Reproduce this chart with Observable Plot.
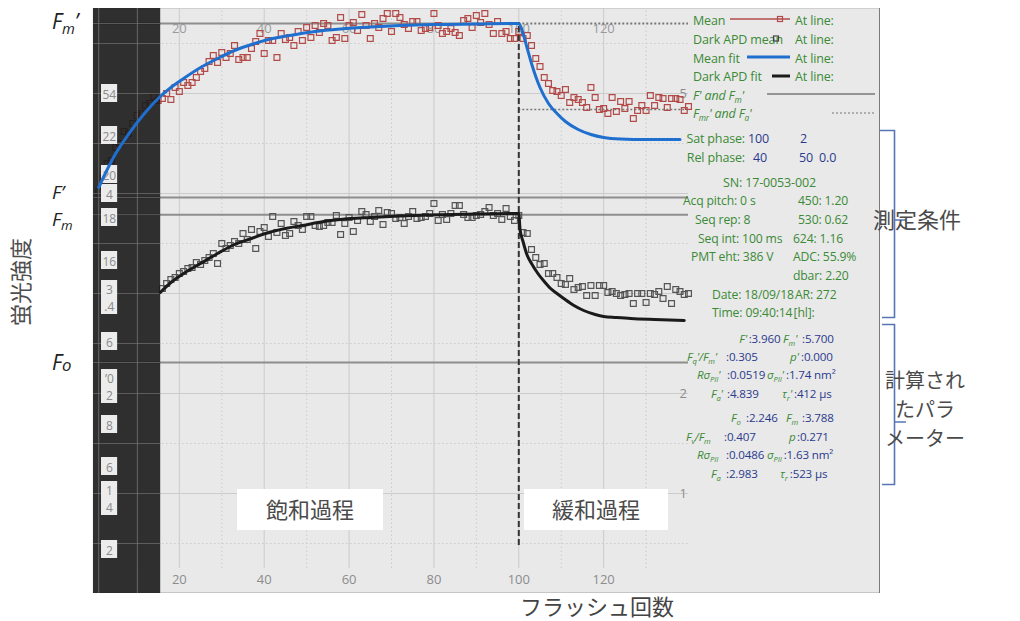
<!DOCTYPE html>
<html><head><meta charset="utf-8">
<script src="https://cdn.jsdelivr.net/npm/d3@7"></script>
<script src="https://cdn.jsdelivr.net/npm/@observablehq/plot@0.6"></script>
<style>body{margin:0;background:#fff;} svg{display:block}</style>
</head><body><div id="chart"></div>
<script>
// ---------- data ----------
const meanStart = 1;
const meanValues = [
 4.02,4.15,4.30,4.33,4.46,4.50,4.62,4.60,4.70,4.78,4.80,4.88,4.90,4.97,4.93,
 4.95,5.00,4.94,5.06,5.02,5.11,5.08,5.11,5.16,5.22,5.25,5.32,5.38,5.31,5.41,5.36,5.40,5.48,5.34,5.36,5.36,5.45,5.52,5.60,5.40,5.53,5.53,5.36,5.60,5.54,5.56,5.48,5.62,5.53,5.66,5.56,5.68,5.61,5.70,5.68,
 5.53,5.56,5.76,5.55,5.68,5.71,5.63,5.79,5.68,5.55,5.70,5.66,5.75,5.80,5.62,5.80,5.76,5.69,5.65,5.72,5.72,5.63,5.65,5.66,5.80,5.68,5.60,5.62,5.65,5.61,5.58,5.73,5.75,5.66,5.78,5.71,5.80,5.69,5.60,5.72,5.60,5.62,5.55,5.55,5.62,
 5.55,5.58,5.48,5.35,5.27,5.16,5.10,5.03,5.02,4.98,5.04,4.91,4.96,4.94,4.91,4.86,5.06,4.96,4.84,4.85,4.80,4.96,4.82,4.92,4.85,4.92,4.75,4.83,4.88,4.83,4.98,4.88,4.96,4.95,4.86,4.95,4.95,4.94,4.83,4.87
];
const darkStart = 16;
const darkValues = [
 3.05,3.10,3.14,3.16,3.20,3.22,3.25,3.26,3.31,3.29,3.33,3.36,3.40,3.30,3.50,3.45,3.48,3.52,3.50,3.60,3.54,3.64,3.45,3.62,3.66,3.57,3.77,3.61,3.70,3.58,3.60,3.72,3.68,3.64,3.77,3.77,3.68,3.67,3.68,3.71,
 3.71,3.78,3.59,3.70,3.76,3.62,3.73,3.82,3.79,3.72,3.77,3.83,3.69,3.81,3.80,3.75,3.76,3.70,3.77,3.82,3.75,3.76,3.77,3.80,3.90,3.73,3.79,3.74,3.80,3.88,3.88,3.79,3.76,3.76,3.78,3.79,3.82,3.86,3.78,3.80,3.74,3.85,3.77,3.73,3.78,
 3.61,3.60,3.44,3.36,3.29,3.30,3.20,3.20,3.16,3.10,3.09,3.15,3.04,3.06,3.07,2.98,3.08,2.98,3.08,3.08,3.01,3.02,3.00,2.98,2.99,3.00,2.90,3.00,3.00,2.91,3.00,2.99,3.02,2.95,3.07,2.90,3.04,3.02,2.99,3.00
];
const meanFitX = [1,3,5,7,9,11,13,15,18,21,25,29,33,37,41,46,52,58,65,72,80,90,100,101,102,103,104,105,107,109,111,114,117,120,124,130,138];
const meanFitY = [4.06,4.24,4.40,4.53,4.65,4.76,4.86,4.95,5.06,5.15,5.26,5.35,5.43,5.49,5.54,5.58,5.62,5.645,5.665,5.68,5.69,5.695,5.70,5.60,5.45,5.30,5.17,5.06,4.90,4.80,4.72,4.64,4.59,4.56,4.545,4.54,4.54];
const darkFitX = [15.5,18,21,25,29,33,37,41,45,49,54,58,65,72,79,90,100,100.3,101,102,103,104.5,106,107.5,109,110.6,113,115.3,118,120,123,126.4,132,139];
const darkFitY = [3.01,3.11,3.20,3.30,3.40,3.49,3.55,3.61,3.65,3.68,3.72,3.74,3.76,3.775,3.785,3.795,3.80,3.64,3.52,3.38,3.30,3.20,3.12,3.05,3.00,2.95,2.88,2.83,2.79,2.77,2.76,2.75,2.74,2.73];
const xTicks = [20,40,60,80,100,120];
const xMinor = [10,30,50,70,90,110,130];
const yRightTicks = [1,2,5];
const yGrid = [1,2,3,4,5];
const yMinor = [0.5,1.5,2.5,3.5,4.5,5.5];
const fPrime = 3.96, fmPrime = 5.70, fm = 3.788, fo = 2.31, faPrime = 4.839;
const satEnd = 100;
const stripEnd = 15.6;
const stripLabelText = ["54","22","20","4","18","16","3\n.4","6","’0\n2","8","6","1\n4","2"];
const stripLabelY = [5.00,4.58,4.19,4.00,3.76,3.33,2.96,2.52,2.07,1.69,1.27,0.95,0.44];

// ---------- tables ----------
const mean = meanValues.map((v,i)=>({x: meanStart+i, v}));
const dark = darkValues.map((v,i)=>({x: darkStart+i, v}));
const meanFit = meanFitX.map((x,i)=>({x, v: meanFitY[i]}));
const darkFit = darkFitX.map((x,i)=>({x, v: darkFitY[i]}));
const strip = stripLabelText.map((t,i)=>{const n=t.split("\n").length; return {t, y: stripLabelY[i], half: 0.08*n+0.01};});

const gridC = "#cbcbcb", refC = "#8e8e8e";
const chart = Plot.plot({
  width: 1020, height: 621,
  marginLeft: 94, marginRight: 332, marginTop: 8, marginBottom: 28,
  x: {domain: [0,140]},
  y: {domain: [0,5.85]},
  style: {fontFamily: "'Open Sans', sans-serif", background: "transparent"},
  marks: [
    Plot.ruleX(xTicks, {y1: 0.25, y2: 5.85, stroke: gridC}),
    Plot.ruleX(xMinor, {y1: 0.25, y2: 5.85, stroke: gridC, strokeDasharray: "1.5,2.5"}),
    Plot.ruleY(yGrid, {x1: 0, x2: 140, stroke: gridC}),
    Plot.ruleY(yMinor, {x1: 0, x2: 140, stroke: gridC, strokeDasharray: "1.5,2.5"}),
    Plot.axisX(xTicks, {anchor: "bottom", tickSize: 0, tickPadding: 0, dy: -19, fontSize: 13, color: "#8c8c8c", label: null}),
    Plot.axisX(xTicks, {anchor: "top", tickSize: 0, tickPadding: 0, dy: 24, fontSize: 13, color: "#9a9a9a", label: null}),
    Plot.axisY(yRightTicks, {anchor: "right", tickSize: 0, tickPadding: 0, dx: -9, fontSize: 13, color: "#8c8c8c", label: null, tickFormat: "d"}),
    Plot.ruleY([fmPrime], {x1: 0, x2: satEnd, stroke: refC, strokeWidth: 2}),
    Plot.ruleY([fmPrime], {x1: satEnd, x2: 140, stroke: "#777", strokeWidth: 1.8, strokeDasharray: "2,2"}),
    Plot.ruleY([faPrime], {x1: satEnd, x2: 140, stroke: "#777", strokeWidth: 1.5, strokeDasharray: "2,2"}),
    Plot.ruleY([fPrime, fm, fo], {x1: 0, x2: 140, stroke: refC, strokeWidth: 2}),
    Plot.dot(dark, {x: "x", y: "v", symbol: "square", r: 3.3, stroke: "#555", strokeWidth: 1.2, fill: "none"}),
    Plot.dot(mean, {x: "x", y: "v", symbol: "square", r: 3.3, stroke: "#b24b48", strokeWidth: 1.2, fill: "none"}),
    Plot.rect([0], {x1: -0.25, x2: stripEnd, y1: 0, y2: 5.85, fill: "#1b1b1b", fillOpacity: 0.9}),
    Plot.ruleY(yGrid.concat(yMinor, [fPrime, fm, fo, fmPrime]), {x1: -0.2, x2: stripEnd, stroke: "#707070", strokeOpacity: 0.7}),
    Plot.ruleX([1, 10.1], {y1: 0, y2: 5.85, stroke: "#777", strokeOpacity: 0.8}),
    Plot.rect(strip, {x1: 1.65, x2: 5.45, y1: d => d.y - d.half, y2: d => d.y + d.half, fill: "#ececec"}),
    Plot.text(strip, {x: 3.5, y: "y", text: "t", fill: "#8a8a8a", fontSize: 12, lineHeight: 1.4}),
    Plot.ruleX([satEnd], {y1: 0.48, y2: 5.71, stroke: "#333", strokeWidth: 2, strokeDasharray: "6,3"}),
    Plot.line(darkFit, {x: "x", y: "v", stroke: "#1a1a1a", strokeWidth: 3, curve: "monotone-x"}),
    Plot.line(meanFit, {x: "x", y: "v", stroke: "#1f6fcf", strokeWidth: 3, curve: "monotone-x"})
  ]
});
document.getElementById("chart").append(chart);

// ---------- annotations ----------
const svg = d3.select(chart);
const bg = svg.insert("g", "g");
bg.append("rect").attr("x",93).attr("y",8).attr("width",787).attr("height",585).attr("fill","#e9e9ea");
bg.append("line").attr("x1",93).attr("x2",880).attr("y1",8.5).attr("y2",8.5).attr("stroke","#cfcfcf");
bg.append("line").attr("x1",93).attr("x2",880).attr("y1",592.5).attr("y2",592.5).attr("stroke","#c6c6c6");
bg.append("line").attr("x1",879.5).attr("x2",879.5).attr("y1",8).attr("y2",593).attr("stroke","#7a7a7a");

const ann = svg.append("g").attr("font-family","'Open Sans', sans-serif");
function rich(x, y, str, o = {}) {
  const size = o.size || 13, sub = o.sub || 0.72, sdy = o.sdy === undefined ? 3 : o.sdy;
  const t = ann.append("text").attr("x", x).attr("y", y).attr("font-size", size)
    .attr("fill", o.color || "#333").attr("text-anchor", o.anchor || "start")
    .attr("font-style", o.italic ? "italic" : "normal").style("white-space", "pre");
  if (o.ls) t.attr("letter-spacing", o.ls);
  let shifted = false;
  str.split(/(\{[^}]*\})/).forEach(p => {
    if (!p) return;
    if (p[0] === "{") { t.append("tspan").attr("font-size", size*sub).attr("dy", shifted ? 0 : sdy).text(p.slice(1,-1)); shifted = true; }
    else { const s = t.append("tspan"); if (shifted) { s.attr("dy", -sdy); shifted = false; } s.text(p); }
  });
  return t;
}

// left labels
rich(52, 29, "F{m}’", {size: 21, italic: true, color: "#222", sdy: 5, sub: 0.7});
rich(52, 199, "F’", {size: 19, italic: true, color: "#222"});
rich(52, 226, "F{m}", {size: 19, italic: true, color: "#222", sdy: 4, sub: 0.7});
rich(52, 370, "F{o}", {size: 21, italic: true, color: "#222", sdy: 1, sub: 0.8});
ann.append("text").attr("transform","translate(29,282) rotate(-90)").attr("text-anchor","middle")
  .attr("font-family","'Noto Sans CJK JP'").attr("font-size",22).attr("fill","#4d4d4d").text("蛍光強度");

// white boxes
const jp = "'Noto Sans CJK JP'";
[[237,146,"飽和過程"],[524,144,"緩和過程"]].forEach(([x,w,t]) => {
  ann.append("rect").attr("x",x).attr("y",489).attr("width",w).attr("height",41).attr("fill","#fff");
  ann.append("text").attr("x",x+w/2).attr("y",518).attr("text-anchor","middle").attr("font-family",jp)
    .attr("font-size",22).attr("fill","#4a4a4a").text(t);
});
ann.append("text").attr("x",597).attr("y",615).attr("text-anchor","middle").attr("font-family",jp)
  .attr("font-size",22).attr("fill","#444").text("フラッシュ回数");

// legend panel
const G = "#3b8a35", N = "#2b3a8c";
const rows = [
 [21, 12.5, [[693,"Mean",G],[795,"At line:",G]]],
 [40, 12.5, [[693,"Dark APD mean",G],[795,"At line:",G]]],
 [59, 12.5, [[693,"Mean fit",G],[795,"At line:",G]]],
 [77, 12.5, [[693,"Dark APD fit",G],[795,"At line:",G]]],
 [96, 12.5, [[693,"F' and F{m}'",G,true]]],
 [114,12.5, [[693,"F{mr}' and F{a}'",G,true]]],
 [139,12.5, [[745,"Sat phase:",G,false,"end"],[748,"100",N],[800,"2",N]]],
 [158,12.5, [[745,"Rel phase:",G,false,"end"],[753,"40",N],[799,"50",N],[819,"0.0",N]]],
 [183,12.5, [[723,"SN: 17-0053-002",G]]],
 [201,12.2, [[683,"Acq pitch: 0 s",G],[798,"450: 1.20",G]]],
 [220,12.2, [[695,"Seq rep: 8",G],[798,"530: 0.62",G]]],
 [239,12.2, [[698,"Seq int: 100 ms",G],[793,"624: 1.16",G]]],
 [257,12.2, [[691,"PMT eht: 386 V",G],[793,"ADC: 55.9%",G]]],
 [276,12.2, [[793,"dbar: 2.20",G]]],
 [295,12.2, [[712,"Date: 18/09/18",G],[793,"AR: 272",G]]],
 [313,12.2, [[712,"Time: 09:40:14",G],[793,"[hl]:",G]]],
 [339,11.6, [[747,"F'",G,true,"end"],[747,":3.960",N],[783,"F{m}'",G,true],[802,":5.700",N]]],
 [357,11.6, [[687,"F{q}'/F{m}'",G,true],[726,":0.305",N],[790,"p'",G,true],[801,":0.000",N]]],
 [375,11.6, [[697,"Rσ{PII}'",G,true],[727,":0.0519",N],[767,"σ{PII}'",G,true],[786,":1.74 nm²",N]]],
 [394,11.6, [[711,"F{a}'",G,true],[727,":4.839",N],[782,"τ{r}'",G,true],[794,":412 μs",N]]],
 [418,11.6, [[731,"F{o}",G,true],[746,":2.246",N],[786,"F{m}",G,true],[802,":3.788",N]]],
 [437,11.6, [[686,"F{v}/F{m}",G,true],[724,":0.407",N],[789,"p",G,true],[797,":0.271",N]]],
 [455,11.6, [[697,"Rσ{PII}",G,true],[726,":0.0486",N],[767,"σ{PII}",G,true],[782,":1.63 nm²",N]]],
 [474,11.6, [[711,"F{a}",G,true],[726,":2.983",N],[780,"τ{r}",G,true],[789,":523 μs",N]]]
];
rows.forEach(([y, size, segs]) => {
  let prevEnd = -Infinity;
  segs.forEach(([x, t, c, it, an]) => {
    const el = rich(x, y + 4.3, t, {size, color: c, italic: !!it, anchor: an || "start", sub: 0.66, sdy: 2.5, ls: -0.15});
    let bb = el.node().getBBox();
    if (bb.x < prevEnd + 1) { const s = prevEnd + 1 - bb.x; el.attr("x", x + s); bb = el.node().getBBox(); }
    prevEnd = bb.x + bb.width;
  });
});

// legend samples
const L = (x1,x2,y,c,w,da) => ann.append("line").attr("x1",x1).attr("x2",x2).attr("y1",y).attr("y2",y)
  .attr("stroke",c).attr("stroke-width",w).attr("stroke-dasharray",da||null);
L(730,790,19,"#b24b48",1.5);
ann.append("rect").attr("x",777.5).attr("y",16.5).attr("width",5).attr("height",5).attr("fill","none").attr("stroke","#b24b48").attr("stroke-width",1.2);
ann.append("rect").attr("x",773.5).attr("y",36).attr("width",5).attr("height",5).attr("fill","none").attr("stroke","#444").attr("stroke-width",1.2);
L(747,790,57,"#1f6fcf",3);
L(772,790,76,"#1a1a1a",3);
L(767,875,94,"#777",1.5);
L(832,874,113,"#777",1.2,"2,2");

// brackets
const B = "#5876b5";
ann.append("path").attr("d","M880,130.5H894.5V317.5H882 M894.5,220H906").attr("fill","none").attr("stroke",B).attr("stroke-width",1.6);
ann.append("path").attr("d","M882,324.5H894.5V484.5H882 M894.5,422H906").attr("fill","none").attr("stroke",B).attr("stroke-width",1.6);
ann.append("text").attr("x",917).attr("y",228).attr("font-family",jp).attr("font-size",22).attr("fill","#4a4a4a").text("測定条件");
["計算され","たパラ","メーター"].forEach((t,i) => ann.append("text").attr("x",925).attr("y",388 + 29*i)
  .attr("font-family",jp).attr("font-size",20).attr("fill","#4a4a4a").text(t));
</script></body></html>
